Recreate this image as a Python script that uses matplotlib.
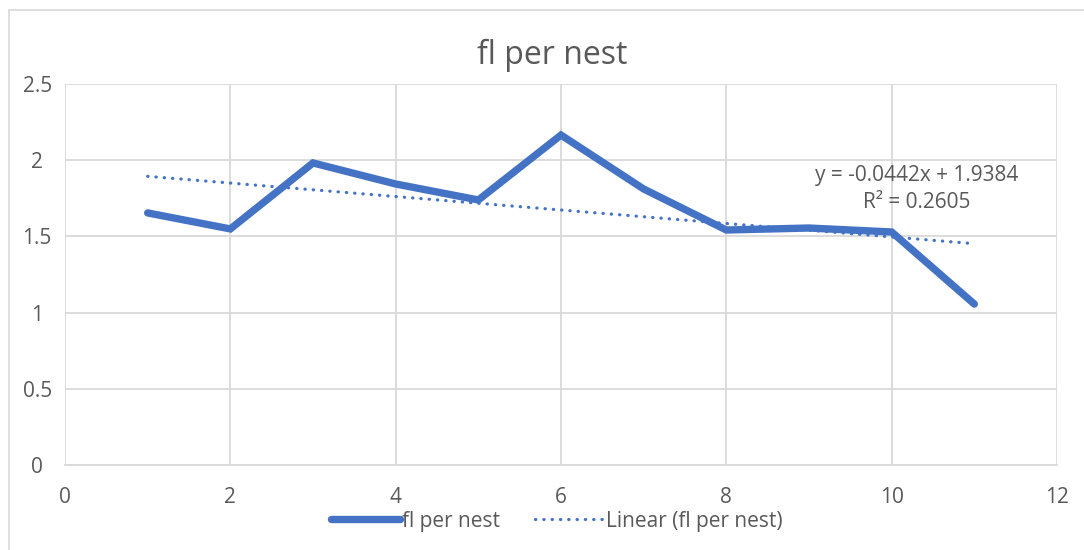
import matplotlib.pyplot as plt
from matplotlib.patches import Rectangle

plt.rcParams['font.family'] = ['Open Sans', 'DejaVu Sans']

# Nest index and flowers per nest
nest = [1, 2, 3, 4, 5, 6, 7, 8, 9, 10, 11]
fl_per_nest = [1.654, 1.549, 1.982, 1.844, 1.739, 2.165, 1.811, 1.542, 1.555, 1.529, 1.056]

# Linear trend coefficients shown on the chart
slope = -0.0442
intercept = 1.9384
r_squared = 0.2605

x_ticks = [0, 2, 4, 6, 8, 10, 12]
y_ticks = [0, 0.5, 1, 1.5, 2, 2.5]

blue = '#4472C4'
grey_text = '#595959'
grid_col = '#D9D9D9'

fig = plt.figure(figsize=(10.84, 5.5), dpi=100)
fig.patch.set_facecolor('white')

# Outer chart frame
fig.patches.append(Rectangle((9 / 1084, -0.01), 1.0, 1 - 10 / 550 + 0.01,
                             transform=fig.transFigure, fill=False,
                             edgecolor=grid_col, linewidth=1.2))

ax = fig.add_axes([65 / 1084, 1 - 465 / 550, (1057 - 65) / 1084, (465 - 84) / 550])
ax.set_xlim(0, 12)
ax.set_ylim(0, 2.5)
ax.set_xticks(x_ticks)
ax.set_yticks(y_ticks)
ax.set_xticklabels([str(t) for t in x_ticks])
ax.set_yticklabels(['0', '0.5', '1', '1.5', '2', '2.5'])
ax.grid(True, color=grid_col, linewidth=1.3)
ax.set_axisbelow(True)
for side in ['top', 'right', 'left']:
    ax.spines[side].set_visible(False)
ax.spines['bottom'].set_color(grid_col)
ax.spines['bottom'].set_linewidth(1.3)
ax.tick_params(axis='both', length=0, colors=grey_text, labelsize=15)
ax.tick_params(axis='x', pad=16)
ax.tick_params(axis='y', pad=20)
for lbl in ax.get_yticklabels():
    lbl.set_horizontalalignment('center')

line, = ax.plot(nest, fl_per_nest, color=blue, linewidth=5.3,
                solid_capstyle='round', solid_joinstyle='miter', label='fl per nest')

trend_x = [nest[0], nest[-1]]
trend_y = [slope * x + intercept for x in trend_x]
trend, = ax.plot(trend_x, trend_y, color=blue, linewidth=2.3,
                 linestyle=(0, (0.1, 2.5)), dash_capstyle='round',
                 label='Linear (fl per nest)')

ax.text(0.859, 0.761, f'y = {slope}x + {intercept}', transform=ax.transAxes,
        ha='center', va='center', color=grey_text, fontsize=15)
ax.text(0.859, 0.688, f'R² = {r_squared}', transform=ax.transAxes,
        ha='center', va='center', color=grey_text, fontsize=15)

fig.text(552 / 1084, 1 - 55 / 550, 'fl per nest', ha='center', va='center',
         color=grey_text, fontsize=23)

leg = fig.legend(handles=[line, trend], loc='center', bbox_to_anchor=(557 / 1084, 1 - 521 / 550),
                 ncol=2, frameon=False, fontsize=15, handlelength=3.3,
                 handletextpad=0.1, columnspacing=1.7, borderpad=0.0)
for t in leg.get_texts():
    t.set_color(grey_text)

fig.savefig('out.png', dpi=100)
